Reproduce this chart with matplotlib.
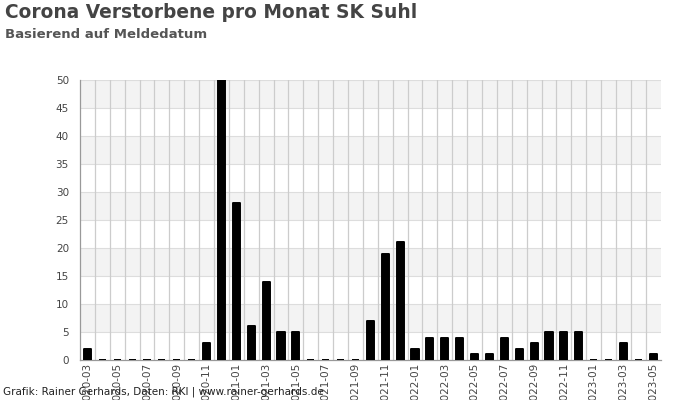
import numpy as np
import matplotlib.pyplot as plt

# monthly deaths, 2020-03 .. 2023-05
months = ["2020-03", "2020-04", "2020-05", "2020-06", "2020-07", "2020-08",
          "2020-09", "2020-10", "2020-11", "2020-12",
          "2021-01", "2021-02", "2021-03", "2021-04", "2021-05", "2021-06",
          "2021-07", "2021-08", "2021-09", "2021-10", "2021-11", "2021-12",
          "2022-01", "2022-02", "2022-03", "2022-04", "2022-05", "2022-06",
          "2022-07", "2022-08", "2022-09", "2022-10", "2022-11", "2022-12",
          "2023-01", "2023-02", "2023-03", "2023-04", "2023-05"]
deaths = [2, 0, 0, 0, 0, 0, 0, 0, 3, 50,
          28, 6, 14, 5, 5, 0, 0, 0, 0, 7, 19, 21,
          2, 4, 4, 4, 1, 1, 4, 2, 3, 5, 5, 5,
          0, 0, 3, 0, 1]

y_ticks = [0, 5, 10, 15, 20, 25, 30, 35, 40, 45, 50]

fig = plt.figure(figsize=(7, 4), dpi=100)
ax = fig.add_axes([80/700, 0.1, 580.7/700, 0.7])

x = np.arange(len(months))
n = len(months)

# alternating background bands
for lo in range(5, 50, 10):
    ax.axhspan(lo, lo + 5, color="#f3f3f3", zorder=0, lw=0)

# grid
for yv in y_ticks[1:]:
    ax.axhline(yv, color="#dddddd", lw=0.8, zorder=1)
for k in range(1, n):
    ax.axvline(k - 0.5, color="#cccccc", lw=0.9, zorder=1)

ax.bar(x, deaths, width=0.48, color="black", edgecolor="black",
       linewidth=1.4, joinstyle="round", zorder=3)

ax.set_xlim(-0.5, n - 0.5)
ax.set_ylim(0, 50)
ax.set_yticks(y_ticks)
ax.set_xticks(x[::2])
ax.set_xticklabels(months[::2], rotation=90)
ax.tick_params(axis="both", length=0, labelsize=7.5, colors="#444444")
ax.tick_params(axis="y", pad=8)
ax.tick_params(axis="x", pad=2)

for s in ["top", "right"]:
    ax.spines[s].set_visible(False)
ax.spines["left"].set_color("#999999")
ax.spines["bottom"].set_color("#999999")
ax.spines["left"].set_linewidth(0.9)
ax.spines["bottom"].set_linewidth(0.9)

fig.text(5/700, 1 - 13/400, "Corona Verstorbene pro Monat SK Suhl",
         fontsize=13.4, fontweight="bold", color="#444444", va="center")
fig.text(5/700, 1 - 34/400, "Basierend auf Meldedatum",
         fontsize=9.5, fontweight="bold", color="#555555", va="center")
fig.text(3/700, 1 - 392/400, "Grafik: Rainer Gerhards, Daten: RKI | www.rainer-gerhards.de",
         fontsize=7.5, color="#222222", va="center")

fig.savefig("out.png", dpi=100)
